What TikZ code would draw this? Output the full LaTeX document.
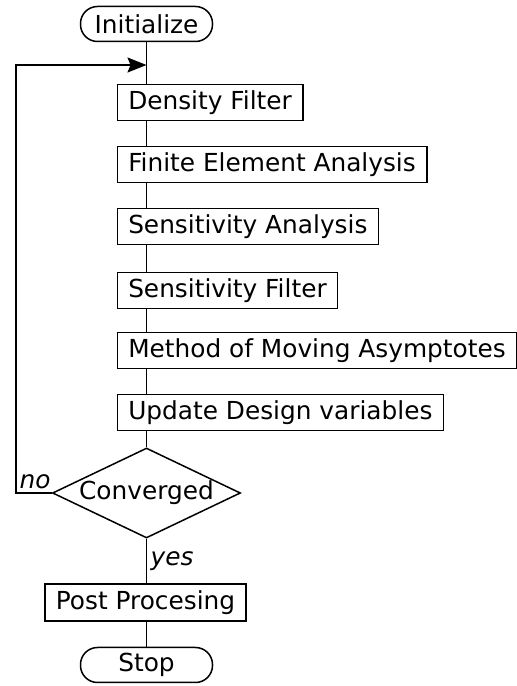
\documentclass[tikz,border=0pt]{standalone}
\usepackage{fontspec}
\setmainfont{DejaVu Sans}
\usetikzlibrary{shapes.geometric,arrows.meta}

\begin{document}
\begin{tikzpicture}[x=1pt,y=1pt,line width=1.5pt,
    every node/.style={font=\fontsize{24.8}{29}\selectfont},
    stepbox/.style={draw,rectangle,fill=white,minimum height=36pt,inner ysep=2pt,inner xsep=11pt,anchor=north west},
    terminal/.style={draw,rectangle,rounded corners=17pt,minimum width=132pt,minimum height=35pt,inner ysep=2pt},
    decision/.style={draw,diamond,aspect=2.09,minimum width=188pt,minimum height=90pt,inner sep=0pt}]
  \useasboundingbox (0,0) rectangle (517,686);
  % start and the loop body
  \node[terminal] (init) at (146.5,662) {Initialize};
  \node[stepbox] (dens) at (116.5,602) {Density Filter};
  \node[stepbox] (fea) at (116.5,540) {Finite Element Analysis};
  \node[stepbox] (sens) at (116.5,478) {Sensitivity Analysis};
  \node[stepbox] (sfilt) at (116.5,414) {Sensitivity Filter};
  \node[stepbox] (mma) at (116.5,354) {Method of Moving Asymptotes};
  \node[stepbox] (upd) at (116.5,292) {Update Design variables};
  \node[decision] (conv) at (146.5,193) {Converged};
  % after convergence
  \node[draw,rectangle,minimum height=37pt,inner ysep=2pt,inner xsep=11pt] (post) at (145.5,83.5) {Post Procesing};
  \node[terminal] (stop) at (146.5,21) {Stop};
  % spine
  \draw (init.south) -- (init.south |- dens.north);
  \draw (init.south |- dens.south) -- (init.south |- fea.north);
  \draw (init.south |- fea.south) -- (init.south |- sens.north);
  \draw (init.south |- sens.south) -- (init.south |- sfilt.north);
  \draw (init.south |- sfilt.south) -- (init.south |- mma.north);
  \draw (init.south |- mma.south) -- (init.south |- upd.north);
  \draw (init.south |- upd.south) -- (conv.north);
  \draw (conv.south) -- node[right,font=\fontsize{24.8}{29}\itshape] {yes} (conv.south |- post.north);
  \draw (conv.south |- post.south) -- (stop.north);
  % back loop
  \coordinate (ret) at (init.south |- 0,621);
  \coordinate (corner) at (16,193);
  \draw[-{Stealth[length=19pt,width=15pt,inset=3pt]}] (conv.west) -- (corner) |- (ret);
  \node[anchor=south west,inner sep=3pt,font=\fontsize{24.8}{29}\itshape] at (corner) {no};
\end{tikzpicture}
\end{document}
